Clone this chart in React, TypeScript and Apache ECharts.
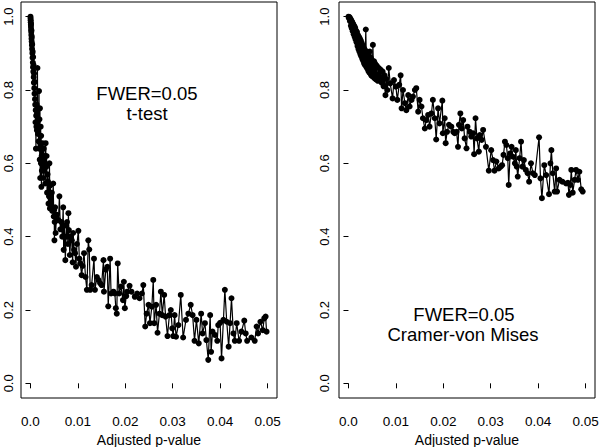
import React, { useEffect, useRef } from "react";
import * as echarts from "echarts";

// Adjusted p-value vs. proportion, t-test panel
const tTestPoints: [number, number][] = [
  [0.0, 1.0], [0.00002, 0.995], [0.00004, 0.99], [0.00006, 0.985], [0.00008, 0.978],
  [0.0001, 0.972], [0.00012, 0.98], [0.00014, 0.965], [0.00016, 0.958], [0.00018, 0.95],
  [0.0002, 0.962], [0.00022, 0.94], [0.00025, 0.932], [0.00028, 0.945], [0.0003, 0.922],
  [0.00033, 0.912], [0.00036, 0.925], [0.0004, 0.9], [0.00043, 0.888], [0.00046, 0.905],
  [0.0005, 0.875], [0.00053, 0.862], [0.00056, 0.89], [0.0006, 0.85], [0.00064, 0.868],
  [0.00068, 0.835], [0.00072, 0.82], [0.00076, 0.845], [0.0008, 0.805], [0.00085, 0.79],
  [0.0009, 0.822], [0.00095, 0.775], [0.001, 0.76], [0.00105, 0.712], [0.0011, 0.745],
  [0.00115, 0.64], [0.0012, 0.73], [0.00125, 0.7], [0.0013, 0.76], [0.00135, 0.69],
  [0.0014, 0.735], [0.00147, 0.86], [0.00152, 0.715], [0.00158, 0.68], [0.00163, 0.75],
  [0.0017, 0.66], [0.00175, 0.7], [0.0018, 0.797], [0.00185, 0.64], [0.0019, 0.72],
  [0.00195, 0.61], [0.002, 0.75], [0.00205, 0.56], [0.0021, 0.65], [0.00215, 0.7],
  [0.0022, 0.6], [0.00225, 0.675], [0.0023, 0.536], [0.00235, 0.62], [0.0024, 0.58],
  [0.0025, 0.655], [0.0026, 0.6], [0.0027, 0.56], [0.0028, 0.64], [0.0029, 0.58],
  [0.003, 0.62], [0.0031, 0.545], [0.0032, 0.655], [0.0033, 0.59], [0.0034, 0.62],
  [0.0035, 0.52], [0.0036, 0.57], [0.0037, 0.55], [0.0038, 0.49], [0.0039, 0.51],
  [0.004, 0.6], [0.0041, 0.477], [0.0042, 0.54], [0.0043, 0.5], [0.0044, 0.48],
  [0.0045, 0.52], [0.0046, 0.47], [0.0048, 0.545], [0.0049, 0.455], [0.005, 0.473],
  [0.00505, 0.39], [0.0051, 0.44], [0.0052, 0.48], [0.0053, 0.41], [0.0055, 0.46],
  [0.0057, 0.445], [0.0059, 0.445], [0.0061, 0.51], [0.0063, 0.42], [0.0065, 0.44],
  [0.0067, 0.4], [0.0069, 0.48], [0.007, 0.364], [0.0072, 0.43], [0.00735, 0.336],
  [0.0075, 0.4], [0.0077, 0.44], [0.0079, 0.38], [0.008, 0.464], [0.0081, 0.418],
  [0.0083, 0.35], [0.0085, 0.4], [0.0087, 0.39], [0.0089, 0.33], [0.009, 0.41],
  [0.0092, 0.364], [0.0094, 0.355], [0.0096, 0.318], [0.0098, 0.38], [0.0101, 0.416],
  [0.0103, 0.34], [0.0105, 0.327], [0.0108, 0.295], [0.011, 0.32], [0.0113, 0.355],
  [0.0116, 0.29], [0.0119, 0.255], [0.0122, 0.39], [0.0124, 0.365], [0.0126, 0.255],
  [0.0129, 0.268], [0.0134, 0.34], [0.0136, 0.255], [0.014, 0.29], [0.0143, 0.282],
  [0.0147, 0.273], [0.015, 0.268], [0.0154, 0.336], [0.0155, 0.25], [0.0159, 0.31],
  [0.0162, 0.318], [0.0164, 0.21], [0.0168, 0.34], [0.017, 0.245], [0.0175, 0.25],
  [0.0178, 0.245], [0.018, 0.205], [0.0182, 0.19], [0.0184, 0.327], [0.0187, 0.245],
  [0.0191, 0.264], [0.0195, 0.227], [0.0197, 0.277], [0.0199, 0.205], [0.0202, 0.238],
  [0.0204, 0.25], [0.0209, 0.266], [0.0213, 0.25], [0.022, 0.236], [0.0225, 0.245],
  [0.023, 0.232], [0.0235, 0.245], [0.0238, 0.268], [0.0242, 0.155], [0.0245, 0.19],
  [0.0249, 0.214], [0.0252, 0.164], [0.0256, 0.209], [0.0259, 0.282], [0.0261, 0.164],
  [0.0265, 0.214], [0.0268, 0.138], [0.0272, 0.19], [0.0275, 0.25], [0.0278, 0.186],
  [0.0282, 0.241], [0.0285, 0.182], [0.0289, 0.129], [0.0293, 0.186], [0.0296, 0.2],
  [0.0299, 0.15], [0.0301, 0.129], [0.0304, 0.186], [0.0307, 0.127], [0.0312, 0.159],
  [0.0317, 0.241], [0.0322, 0.125], [0.0328, 0.173], [0.0333, 0.19], [0.0338, 0.214],
  [0.0342, 0.186], [0.0346, 0.116], [0.035, 0.173], [0.0355, 0.109], [0.036, 0.19],
  [0.0363, 0.136], [0.0368, 0.164], [0.0371, 0.118], [0.0375, 0.064], [0.0379, 0.186],
  [0.0381, 0.086], [0.0384, 0.141], [0.0389, 0.132], [0.0394, 0.116], [0.0396, 0.159],
  [0.04, 0.165], [0.0403, 0.068], [0.0407, 0.173], [0.041, 0.255], [0.0414, 0.168],
  [0.0418, 0.1], [0.0421, 0.164], [0.0424, 0.232], [0.0428, 0.136], [0.0431, 0.116],
  [0.0435, 0.164], [0.044, 0.116], [0.0445, 0.141], [0.0451, 0.171], [0.0454, 0.136],
  [0.0457, 0.116], [0.0466, 0.125], [0.0473, 0.116], [0.0477, 0.155], [0.048, 0.136],
  [0.0485, 0.168], [0.049, 0.145], [0.0493, 0.177], [0.0496, 0.182], [0.0498, 0.141],
];

// Cramer-von Mises panel
const cvmPoints: [number, number][] = [
  [0.0, 1.0], [0.0001, 0.996], [0.0002, 0.999], [0.0003, 0.988], [0.0004, 0.995],
  [0.0005, 0.975], [0.0006, 0.99], [0.0007, 0.968], [0.0008, 0.985], [0.0009, 0.96],
  [0.001, 0.98], [0.0011, 0.952], [0.0012, 0.975], [0.0013, 0.945], [0.0014, 0.97],
  [0.0015, 0.938], [0.0016, 0.962], [0.0017, 0.93], [0.0018, 0.958], [0.0019, 0.92],
  [0.002, 0.95], [0.0021, 0.912], [0.0022, 0.945], [0.0023, 0.905], [0.0024, 0.94],
  [0.0025, 0.898], [0.0026, 0.935], [0.0027, 0.892], [0.0028, 0.928], [0.0029, 0.885],
  [0.003, 0.922], [0.0031, 0.88], [0.0032, 0.915], [0.0033, 0.872], [0.0034, 0.91],
  [0.0035, 0.868], [0.00365, 0.965], [0.0038, 0.862], [0.0039, 0.905], [0.004, 0.858],
  [0.0041, 0.9], [0.0042, 0.852], [0.0043, 0.895], [0.0044, 0.848], [0.0045, 0.905],
  [0.0046, 0.845], [0.0047, 0.888], [0.0048, 0.84], [0.0049, 0.882], [0.005, 0.838],
  [0.00515, 0.923], [0.0053, 0.835], [0.0054, 0.878], [0.0055, 0.832], [0.0056, 0.872],
  [0.0057, 0.83], [0.0058, 0.868], [0.0059, 0.828], [0.006, 0.865], [0.0062, 0.825],
  [0.0064, 0.86], [0.0066, 0.835], [0.0068, 0.855], [0.007, 0.82], [0.0072, 0.85],
  [0.0074, 0.81], [0.0076, 0.84], [0.0078, 0.786], [0.008, 0.83], [0.0082, 0.8],
  [0.0085, 0.86], [0.0088, 0.818], [0.0093, 0.777], [0.0096, 0.827], [0.01, 0.809],
  [0.0103, 0.773], [0.0107, 0.814], [0.011, 0.84], [0.0112, 0.75], [0.0115, 0.8],
  [0.0119, 0.764], [0.0122, 0.745], [0.0126, 0.786], [0.0129, 0.755], [0.0133, 0.773],
  [0.0136, 0.782], [0.014, 0.8], [0.0143, 0.805], [0.0147, 0.741], [0.015, 0.773],
  [0.0154, 0.755], [0.0157, 0.723], [0.0161, 0.695], [0.0164, 0.718], [0.0168, 0.732],
  [0.0171, 0.7], [0.0175, 0.736], [0.0178, 0.773], [0.0182, 0.723], [0.0185, 0.665],
  [0.0189, 0.75], [0.0192, 0.709], [0.0198, 0.771], [0.0199, 0.682], [0.0203, 0.723],
  [0.0205, 0.655], [0.0208, 0.686], [0.0212, 0.705], [0.0217, 0.7], [0.0221, 0.686],
  [0.0224, 0.682], [0.0228, 0.686], [0.0231, 0.645], [0.0233, 0.705], [0.0236, 0.736],
  [0.0239, 0.695], [0.0242, 0.718], [0.0245, 0.668], [0.0249, 0.641], [0.0251, 0.7],
  [0.0256, 0.686], [0.0259, 0.673], [0.0263, 0.682], [0.0265, 0.625], [0.0268, 0.723],
  [0.0271, 0.668], [0.0275, 0.632], [0.0277, 0.677], [0.0281, 0.664], [0.0284, 0.691],
  [0.029, 0.645], [0.0296, 0.58], [0.0301, 0.636], [0.0305, 0.609], [0.0308, 0.58],
  [0.0312, 0.605], [0.0317, 0.586], [0.0321, 0.591], [0.0324, 0.595], [0.0327, 0.623],
  [0.033, 0.659], [0.0333, 0.65], [0.0336, 0.614], [0.0338, 0.541], [0.0341, 0.627],
  [0.0344, 0.645], [0.0347, 0.618], [0.0351, 0.6], [0.0353, 0.636], [0.0355, 0.591],
  [0.0357, 0.564], [0.0361, 0.614], [0.0364, 0.659], [0.0367, 0.591], [0.037, 0.609],
  [0.0374, 0.582], [0.0378, 0.573], [0.0381, 0.55], [0.0385, 0.6], [0.0389, 0.573],
  [0.0393, 0.568], [0.0402, 0.671], [0.0405, 0.559], [0.0408, 0.505], [0.0413, 0.595],
  [0.0417, 0.568], [0.0423, 0.516], [0.0426, 0.6], [0.0428, 0.636], [0.0431, 0.573],
  [0.0435, 0.523], [0.0438, 0.586], [0.044, 0.523], [0.0445, 0.555], [0.0451, 0.55],
  [0.0459, 0.545], [0.0463, 0.547], [0.0465, 0.514], [0.0468, 0.541], [0.047, 0.582],
  [0.0473, 0.52], [0.0477, 0.555], [0.048, 0.582], [0.0484, 0.555], [0.0487, 0.577],
  [0.0491, 0.529], [0.0494, 0.523],
];

const xTicks = [0, 0.01, 0.02, 0.03, 0.04, 0.05];
const yTicks = [0, 0.2, 0.4, 0.6, 0.8, 1.0];
const xTitle = "Adjusted p-value";
const leftNote = ["FWER=0.05", "t-test"];
const rightNote = ["FWER=0.05", "Cramer-von Mises"];

const FONT = "'Liberation Sans', Arial, Helvetica, sans-serif";

export default function App() {
  const ref = useRef<HTMLDivElement>(null);
  useEffect(() => {
    if (!ref.current) return;
    const chart = echarts.init(ref.current, undefined, { renderer: "svg" });
    const mkX = (gi: number) => ({
      type: "value",
      gridIndex: gi,
      min: -0.002,
      max: 0.052,
      splitLine: { show: false },
      axisLine: { show: false },
      axisTick: {
        show: true,
        inside: false,
        length: 5,
        customValues: xTicks,
        lineStyle: { color: "#000", width: 1 },
      },
      axisLabel: {
        customValues: xTicks,
        formatter: (v: number) => (v === 0 ? "0.0" : String(Number(v.toFixed(2)))),
        color: "#000",
        fontSize: 13.5,
        fontFamily: FONT,
        margin: 16,
      },
      name: xTitle,
      nameLocation: "middle",
      nameGap: 31,
      nameTextStyle: { color: "#000", fontSize: 14, fontFamily: FONT },
    });
    const mkY = (gi: number, m: number) => ({
      type: "value",
      gridIndex: gi,
      min: -0.04,
      max: 1.04,
      splitLine: { show: false },
      axisLine: { show: false },
      axisTick: {
        show: true,
        inside: false,
        length: 5,
        customValues: yTicks,
        lineStyle: { color: "#000", width: 1 },
      },
      axisLabel: {
        customValues: yTicks,
        formatter: (v: number) => v.toFixed(1),
        rotate: 90,
        color: "#000",
        fontSize: 13,
        fontFamily: FONT,
        margin: m,
      },
    });
    const mkSeries = (gi: number, data: [number, number][]) => ({
      type: "line",
      xAxisIndex: gi,
      yAxisIndex: gi,
      data,
      symbol: "circle",
      symbolSize: 6,
      showSymbol: true,
      lineStyle: { color: "#000", width: 1.2 },
      itemStyle: { color: "#000", borderWidth: 0 },
      emphasis: { disabled: true },
      clip: true,
    });
    const note = (x: number, y: number, t: string) => ({
      type: "text",
      x,
      y,
      style: {
        text: t,
        fill: "#000",
        font: `18.5px ${FONT}`,
        textAlign: "center",
        textVerticalAlign: "middle",
      },
    });
    const gridBase = {
      top: 2,
      width: 256,
      height: 396,
      show: true,
      borderColor: "#000",
      borderWidth: 1,
      backgroundColor: "transparent",
      containLabel: false,
      outerBoundsMode: "none",
    };
    chart.setOption({
      animation: false,
      backgroundColor: "#fff",
      grid: [
        { ...gridBase, left: 21 },
        { ...gridBase, left: 339 },
      ],
      xAxis: [mkX(0), mkX(1)],
      yAxis: [mkY(0, 6), mkY(1, 8.5)],
      series: [mkSeries(0, tTestPoints), mkSeries(1, cvmPoints)],
      graphic: [
        note(147, 93, leftNote[0]),
        note(147, 113.5, leftNote[1]),
        note(464, 314, rightNote[0]),
        note(463, 334, rightNote[1]),
      ],
    });
    return () => chart.dispose();
  }, []);
  return (
    <div
      ref={ref}
      style={{ width: 600, height: 447, position: "absolute", left: 0, top: 0 }}
    />
  );
}
